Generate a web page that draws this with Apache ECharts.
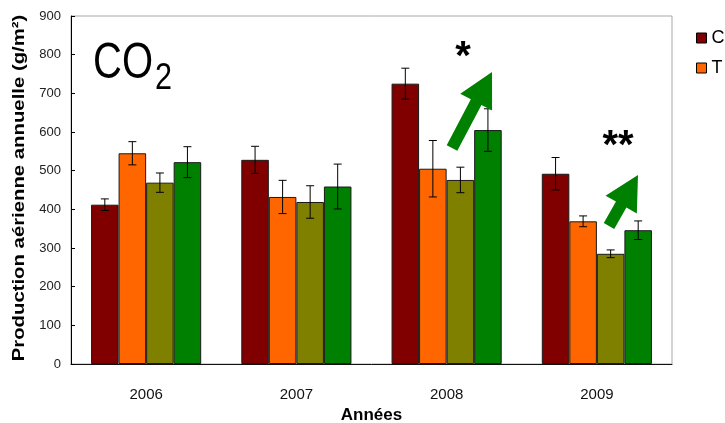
<!DOCTYPE html>
<html>
<head>
<meta charset="utf-8">
<script src="https://cdn.jsdelivr.net/npm/echarts@6/dist/echarts.min.js"></script>
<style>html,body{margin:0;padding:0;background:#fff}#c{width:725px;height:423px}</style>
</head>
<body>
<div id="c"></div>
<script>
const categories = ['2006', '2007', '2008', '2009'];
const seriesNames = ['C', 'T', 'C CO₂', 'T CO₂'];
const valuesC    = [412, 528, 725, 492];
const valuesT    = [545, 432, 505, 369];
const valuesCCO2 = [469, 419, 476, 285];
const valuesTCO2 = [522, 459, 605, 346];
const errC    = [15, 35, 40, 42];
const errT    = [30, 43, 73, 14];
const errCCO2 = [25, 42, 33, 10];
const errTCO2 = [40, 58, 55, 24];
const yTicks = [0, 100, 200, 300, 400, 500, 600, 700, 800, 900];

const colors = ['#800000', '#FF6600', '#808000', '#008000'];
const allValues = [valuesC, valuesT, valuesCCO2, valuesTCO2];
const allErr = [errC, errT, errCCO2, errTCO2];
const GAP = 0.267;

const errData = [];
allValues.forEach((vals, s) => vals.forEach((v, i) => errData.push([i, s, v, allErr[s][i]])));

const FONT = 'Liberation Sans, Arial, sans-serif';

function arrow(tail, tip, shaftW, headW, headLen) {
  const dx = tip[0] - tail[0], dy = tip[1] - tail[1];
  const L = Math.hypot(dx, dy);
  const ux = dx / L, uy = dy / L, px = -uy, py = ux;
  const bx = tip[0] - ux * headLen, by = tip[1] - uy * headLen;
  return [
    [tail[0] + px * shaftW / 2, tail[1] + py * shaftW / 2],
    [bx + px * shaftW / 2, by + py * shaftW / 2],
    [bx + px * headW / 2, by + py * headW / 2],
    tip,
    [bx - px * headW / 2, by - py * headW / 2],
    [bx - px * shaftW / 2, by - py * shaftW / 2],
    [tail[0] - px * shaftW / 2, tail[1] - py * shaftW / 2]
  ];
}

const chart = echarts.init(document.getElementById('c'));
const barSeries = allValues.map((vals, s) => ({
  name: seriesNames[s],
  type: 'bar',
  data: vals,
  barGap: '0%',
  barCategoryGap: (GAP * 100) + '%',
  itemStyle: { color: colors[s], borderColor: '#1a1a1a', borderWidth: 1 },
  emphasis: { disabled: true },
  z: 2
}));

chart.setOption({
  animation: false,
  textStyle: { fontFamily: FONT },
  grid: { left: 71, right: 53, top: 16, bottom: 59, containLabel: false, outerBoundsMode: 'none',
    show: true, borderColor: '#a8a8a8', borderWidth: 1 },
  legend: {
    data: ['C', 'T'],
    orient: 'vertical',
    left: 691, top: 24,
    itemWidth: 10, itemHeight: 10, itemGap: 12,
    icon: 'rect',
    itemStyle: { borderColor: '#000', borderWidth: 1 },
    textStyle: { fontSize: 18, color: '#000', fontFamily: FONT }
  },
  xAxis: {
    type: 'category',
    data: categories,
    name: 'Années',
    nameLocation: 'middle',
    nameGap: 43,
    nameTextStyle: { fontSize: 17, fontWeight: 'bold', color: '#000', fontFamily: FONT },
    axisLine: { lineStyle: { color: '#111', width: 1 } },
    axisTick: { inside: true, length: 7, lineStyle: { color: '#888' } },
    axisLabel: { fontSize: 15, color: '#111', margin: 23, fontFamily: FONT },
    z: 5
  },
  yAxis: {
    type: 'value',
    min: 0, max: 900, interval: 100,
    axisLine: { show: true, lineStyle: { color: '#000', width: 1 } },
    axisTick: { show: true, inside: true, length: 4, lineStyle: { color: '#000' } },
    axisLabel: { fontSize: 13, color: '#222', margin: 10, fontFamily: FONT,
      formatter: v => yTicks.indexOf(v) >= 0 ? String(v) : '' },
    splitLine: { show: false },
    z: 5
  },
  series: barSeries.concat([{
    type: 'custom',
    name: 'err',
    data: errData,
    encode: { x: 0, y: 2 },
    z: 4,
    silent: true,
    renderItem: function (params, api) {
      const cat = api.value(0), s = api.value(1), v = api.value(2), e = api.value(3);
      const catW = api.size([1, 0])[0];
      const barW = catW * (1 - GAP) / 4;
      const x = api.coord([cat, 0])[0] + (s - 1.5) * barW;
      const yt = api.coord([cat, v + e])[1];
      const yb = api.coord([cat, v - e])[1];
      const cap = 4;
      const st = { stroke: '#000', lineWidth: 1 };
      return {
        type: 'group',
        children: [
          { type: 'line', shape: { x1: x, y1: yt, x2: x, y2: yb }, style: st },
          { type: 'line', shape: { x1: x - cap, y1: yt, x2: x + cap, y2: yt }, style: st },
          { type: 'line', shape: { x1: x - cap, y1: yb, x2: x + cap, y2: yb }, style: st }
        ]
      };
    }
  }]),
  graphic: [
    { type: 'text', x: 20, y: 188, rotation: Math.PI / 2, scaleX: 1.27, z: 10,
      style: { text: 'Production aérienne annuelle (g/m²)', font: 'bold 16px ' + FONT, fill: '#000',
        verticalAlign: 'middle', align: 'center' } },
    { type: 'text', x: 93, y: 64, scaleX: 0.8, z: 10,
      style: { text: 'CO', font: '50px ' + FONT, fill: '#000', verticalAlign: 'middle', align: 'left' } },
    { type: 'text', x: 155, y: 79, scaleX: 0.85, z: 10,
      style: { text: '2', font: '36px ' + FONT, fill: '#000', verticalAlign: 'middle', align: 'left' } },
    { type: 'polygon', z: 10, shape: { points: arrow([452, 148], [492, 72], 12, 36, 34) }, style: { fill: '#008000' } },
    { type: 'polygon', z: 10, shape: { points: arrow([609, 226], [638, 175], 12, 36, 34) }, style: { fill: '#008000' } },
    { type: 'text', x: 463, y: 58, z: 10,
      style: { text: '*', font: 'bold 40px ' + FONT, fill: '#000', verticalAlign: 'middle', align: 'center' } },
    { type: 'text', x: 618, y: 147, z: 10,
      style: { text: '**', font: 'bold 40px ' + FONT, fill: '#000', verticalAlign: 'middle', align: 'center' } }
  ]
});
</script>
</body>
</html>
